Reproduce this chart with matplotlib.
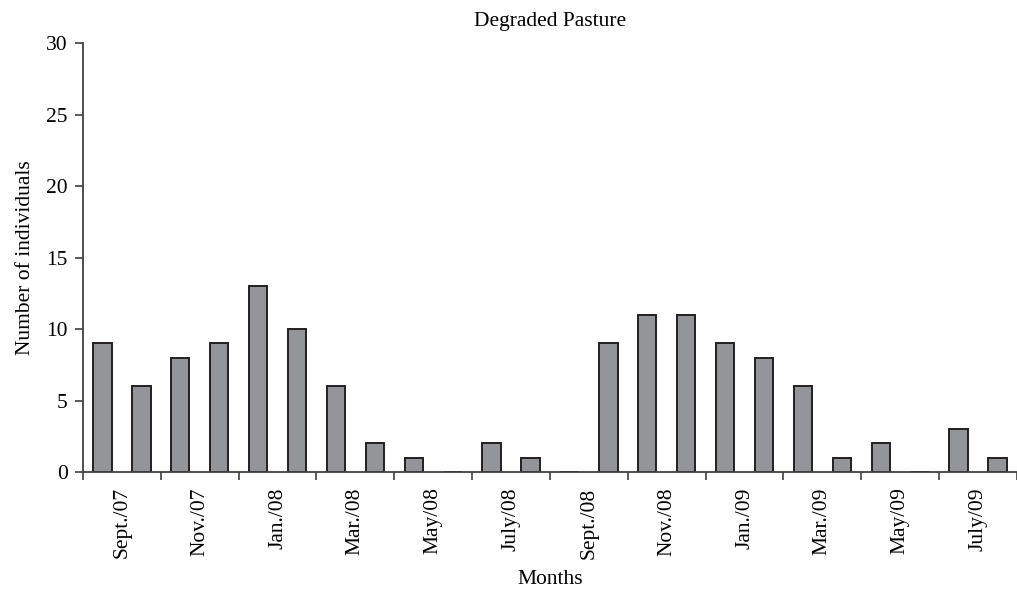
# Degraded pasture: monthly counts of individuals, Sept. 2007 - Aug. 2009
import numpy as np
import matplotlib.pyplot as plt

plt.rcParams['font.family'] = ['Liberation Serif', 'DejaVu Serif']

# One value per month, starting Sept./07
months = ["Sept./07", "Oct./07", "Nov./07", "Dec./07", "Jan./08", "Feb./08",
          "Mar./08", "Apr./08", "May/08", "June/08", "July/08", "Aug./08",
          "Sept./08", "Oct./08", "Nov./08", "Dec./08", "Jan./09", "Feb./09",
          "Mar./09", "Apr./09", "May/09", "June/09", "July/09", "Aug./09"]
counts = [9, 6, 8, 9, 13, 10, 6, 2, 1, 0, 2, 1,
          0, 9, 11, 11, 9, 8, 6, 1, 2, 0, 3, 1]

# Only every second month gets a label, centred on its pair of bars
tick_labels = months[::2]
fs = 15.5

fig = plt.figure(figsize=(10.17, 5.90), dpi=100)
ax = fig.add_axes([0.0816, 0.2, 0.9184, 0.7271])

x = np.arange(len(counts))
ax.bar(x, counts, width=0.47, color="#939598", edgecolor="#231f20",
       linewidth=1.4, zorder=2)

ax.set_xlim(-0.5, len(counts) - 0.55)
ax.set_ylim(0, 30)
ax.set_yticks(range(0, 31, 5))

# Labels between bar pairs, tick marks on the pair boundaries
ax.set_xticks(np.arange(0.5, len(counts), 2))
ax.set_xticklabels(tick_labels, rotation=90, fontsize=fs)
ax.set_xticks(np.arange(-0.5, len(counts), 2), minor=True)
ax.tick_params(axis="x", which="major", length=0, pad=11)
ax.tick_params(axis="x", which="minor", length=6, width=1.2,
               direction="out", color="#404040")
ax.tick_params(axis="y", length=6, width=1.2, color="#404040",
               labelsize=fs, pad=5)

for side in ["top", "right"]:
    ax.spines[side].set_visible(False)
for side in ["left", "bottom"]:
    ax.spines[side].set_color("#404040")
    ax.spines[side].set_linewidth(1.3)
    ax.spines[side].set_zorder(3)

ax.set_title("Degraded Pasture", fontsize=fs, pad=12)
ax.set_ylabel("Number of individuals", fontsize=fs, labelpad=8)
ax.set_xlabel("Months", fontsize=fs, labelpad=8)

fig.savefig("out.png", dpi=100)
